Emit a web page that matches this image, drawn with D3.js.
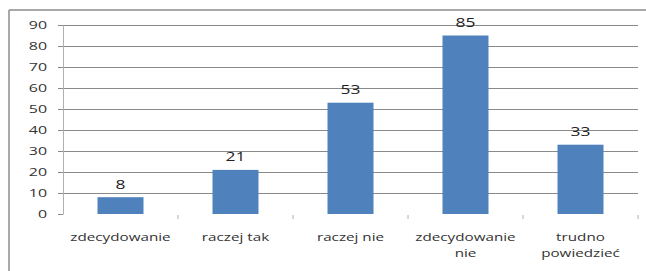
<!DOCTYPE html>
<html>
<head>
<meta charset="utf-8">
<script src="https://cdn.jsdelivr.net/npm/d3@7"></script>
<style>
  body { margin: 0; background: #fff; }
  text { font-family: "Open Sans", sans-serif; fill: #333; }
</style>
</head>
<body>
<div id="chart"></div>
<script>
const categories = ["zdecydowanie", "raczej tak", "raczej nie", "zdecydowanie nie", "trudno powiedzieć"];
const categoryLines = [["zdecydowanie"], ["raczej tak"], ["raczej nie"], ["zdecydowanie", "nie"], ["trudno", "powiedzieć"]];
const values = [8, 21, 53, 85, 33];
const yTicks = [0, 10, 20, 30, 40, 50, 60, 70, 80, 90];

const width = 646;
const height = 271;
const plotLeft = 63, plotRight = 638, plotTop = 25, plotBottom = 214;
const stretch = 1.45;

const svg = d3.select("#chart")
  .append("svg")
    .attr("width", width)
    .attr("height", height);

svg.append("rect").attr("width", width).attr("height", height).attr("fill", "#fff");

// chart frame (only top and left edges visible)
svg.append("line")
  .attr("x1", 9).attr("x2", width).attr("y1", 10).attr("y2", 10)
  .attr("stroke", "#8c8c8c").attr("stroke-width", 1.5);
svg.append("line")
  .attr("x1", 9).attr("x2", 9).attr("y1", 10).attr("y2", height)
  .attr("stroke", "#8c8c8c").attr("stroke-width", 1.5);

const x = d3.scaleBand()
  .domain(categories)
  .range([plotLeft, plotRight])
  .paddingInner(0.6)
  .paddingOuter(0.3);

const y = d3.scaleLinear()
  .domain([0, 90])
  .range([plotBottom, plotTop]);

// gridlines
svg.append("g")
  .attr("transform", `translate(${plotLeft},0)`)
  .call(d3.axisLeft(y).tickValues(yTicks.slice(1)).tickSize(-(plotRight - plotLeft)).tickFormat(""))
  .call(g => g.select(".domain").remove())
  .call(g => g.selectAll("line").attr("stroke", "#8a8a8a"));

// y axis with small outer ticks
svg.append("g")
  .attr("transform", `translate(${plotLeft},0)`)
  .call(d3.axisLeft(y).tickValues(yTicks).tickSizeInner(5).tickSizeOuter(0).tickFormat(""))
  .call(g => g.select(".domain").attr("stroke", "#b0b0b0"))
  .call(g => g.selectAll(".tick line").attr("stroke", "#8a8a8a"));

// y tick labels, stretched horizontally like the original
svg.append("g").selectAll("text")
  .data(yTicks)
  .enter().append("text")
    .attr("transform", d => `translate(47,${y(d) + 4}) scale(${stretch},1)`)
    .attr("text-anchor", "end")
    .style("font-size", "11px")
    .text(d => d);

// x axis category separators
const bounds = categories.slice(1).map(c => x(c) - x.step() * x.paddingInner() / 2);
bounds.push(plotRight);
svg.append("g").selectAll("line")
  .data(bounds)
  .enter().append("line")
    .attr("x1", d => d).attr("x2", d => d)
    .attr("y1", plotBottom + 1).attr("y2", plotBottom + 5)
    .attr("stroke", "#b0b0b0");

// bars
svg.append("g").selectAll("rect")
  .data(values)
  .enter().append("rect")
    .attr("x", (d, i) => x(categories[i]))
    .attr("y", d => y(d))
    .attr("width", x.bandwidth())
    .attr("height", d => y(0) - y(d))
    .attr("fill", "#4f81bd");

// value labels
svg.append("g").selectAll("text")
  .data(values)
  .enter().append("text")
    .attr("transform", (d, i) => `translate(${x(categories[i]) + x.bandwidth() / 2},${y(d) - 8.5}) scale(${stretch},1)`)
    .attr("text-anchor", "middle")
    .style("font-size", "12px")
    .style("fill", "#222")
    .text(d => d);

// category labels
categoryLines.forEach((lines, i) => {
  const cx = x(categories[i]) + x.bandwidth() / 2;
  lines.forEach((t, j) => {
    svg.append("text")
      .attr("transform", `translate(${cx},${241 + j * 16}) scale(${stretch},1)`)
      .attr("text-anchor", "middle")
      .style("font-size", "10.5px")
      .text(t);
  });
});
</script>
</body>
</html>
